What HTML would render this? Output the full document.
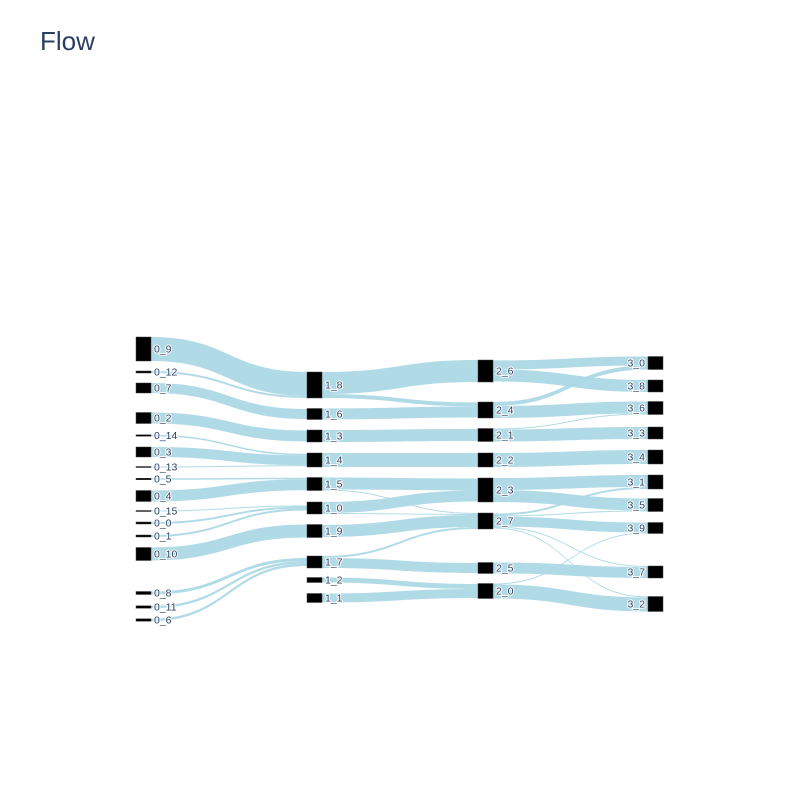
<!DOCTYPE html>
<html><head><meta charset="utf-8"><style>
html,body{margin:0;padding:0;background:#fff;}
svg{display:block;}
text{font-family:"Liberation Sans",Arial,sans-serif;}
.lbl{font-size:10.5px;fill:#2a3f5f;paint-order:stroke;stroke:#fff;stroke-width:2px;stroke-linejoin:round;}
</style></head><body>
<svg id="chart" width="800" height="800">
<rect width="800" height="800" fill="#fff"/>
<text x="40" y="50" font-size="26" fill="#2a3f5f">Flow</text>
<g id="links"></g>
<g id="nodes"></g>
</svg>
<script>
// node labels per column
const col0 = ["0_9","0_12","0_7","0_2","0_14","0_3","0_13","0_5","0_4","0_15","0_0","0_1","0_10","0_8","0_11","0_6"];
const col1 = ["1_8","1_6","1_3","1_4","1_5","1_0","1_9","1_7","1_2","1_1"];
const col2 = ["2_6","2_4","2_1","2_2","2_3","2_7","2_5","2_0"];
const col3 = ["3_0","3_8","3_6","3_3","3_4","3_1","3_5","3_9","3_7","3_2"];
// links
const linkSources = ["0_9","0_12","0_7","0_2","0_14","0_3","0_13","0_5","0_4","0_15","0_0","0_1","0_10","0_8","0_11","0_6",
 "1_8","1_8","1_6","1_3","1_4","1_5","1_5","1_0","1_0","1_9","1_7","1_7","1_2","1_1",
 "2_6","2_6","2_4","2_4","2_1","2_1","2_2","2_3","2_3","2_7","2_7","2_7","2_7","2_7","2_5","2_0","2_0"];
const linkTargets = ["1_8","1_8","1_6","1_3","1_4","1_4","1_4","1_5","1_5","1_0","1_0","1_0","1_9","1_7","1_7","1_7",
 "2_6","2_4","2_4","2_1","2_2","2_3","2_7","2_3","2_7","2_7","2_7","2_5","2_0","2_0",
 "3_0","3_8","3_0","3_6","3_6","3_3","3_4","3_1","3_5","3_1","3_5","3_9","3_7","3_2","3_7","3_9","3_2"];
const linkValues = [24,2,10,11,1.5,10,1,1.5,11,1,2,2,13,3,2.5,2.5,
 22,4,11,12,14,12,1,11,1,12,2,10,5,9,
 9,12,4,12,1,12,14,12,12,2,1,10,1,1,11,1,14];

// layout (positions only)
const colX = [136,307,478,648];
const cols = [col0,col1,col2,col3];
const centerY = {"0_9":349,"0_12":372,"0_7":388,"0_2":418,"0_14":435.5,"0_3":452,"0_13":467,"0_5":479,"0_4":496,"0_15":511,"0_0":523,"0_1":536,"0_10":554,"0_8":593,"0_11":607,"0_6":620,
"1_8":385,"1_6":414,"1_3":436,"1_4":460,"1_5":484,"1_0":508,"1_9":531,"1_7":562,"1_2":580,"1_1":598,
"2_6":371,"2_4":410,"2_1":435,"2_2":460,"2_3":490,"2_7":521,"2_5":568,"2_0":591,
"3_0":363,"3_8":386,"3_6":408,"3_3":433,"3_4":457,"3_1":482,"3_5":505,"3_9":528,"3_7":572,"3_2":604};
const NW = 15, SCALE = 1;
const NS = "http://www.w3.org/2000/svg";
const node = {};
cols.forEach((c,ci)=>c.forEach(n=>{node[n]={col:ci,x:colX[ci],inV:0,outV:0};}));
linkValues.forEach((v,i)=>{node[linkSources[i]].outV+=v;node[linkTargets[i]].inV+=v;});
Object.keys(node).forEach(n=>{const d=node[n];d.h=Math.max(d.inV,d.outV)*SCALE;d.y0=centerY[n]-d.h/2;
  d.outOff=centerY[n]-d.outV*SCALE/2; d.inOff=centerY[n]-d.inV*SCALE/2;});
const idx = linkValues.map((v,i)=>i);
const byOut = idx.slice().sort((a,b)=>centerY[linkTargets[a]]-centerY[linkTargets[b]]);
const byIn = idx.slice().sort((a,b)=>centerY[linkSources[a]]-centerY[linkSources[b]]);
const sy = {}, ty = {};
byOut.forEach(i=>{const s=node[linkSources[i]];sy[i]=s.outOff;s.outOff+=linkValues[i]*SCALE;});
byIn.forEach(i=>{const t=node[linkTargets[i]];ty[i]=t.inOff;t.inOff+=linkValues[i]*SCALE;});
const gl = document.getElementById('links');
idx.forEach(i=>{
  const s=node[linkSources[i]], t=node[linkTargets[i]], w=linkValues[i]*SCALE;
  const x0=s.x+NW, x1=t.x, xm=(x0+x1)/2, a=sy[i], b=ty[i];
  const p=document.createElementNS(NS,'path');
  p.setAttribute('d',`M${x0},${a}C${xm},${a} ${xm},${b} ${x1},${b}L${x1},${b+w}C${xm},${b+w} ${xm},${a+w} ${x0},${a+w}Z`);
  p.setAttribute('fill','#add8e6');
  p.setAttribute('fill-opacity','0.95');
  
  
  gl.appendChild(p);
});
const gn = document.getElementById('nodes');
Object.keys(node).forEach(n=>{
  const d=node[n];
  const r=document.createElementNS(NS,'rect');
  r.setAttribute('x',d.x);r.setAttribute('y',d.y0);r.setAttribute('width',NW);r.setAttribute('height',Math.max(d.h,1));
  r.setAttribute('fill','#000');r.setAttribute('stroke','#444');r.setAttribute('stroke-width','0.5');
  
  
  gn.appendChild(r);
  const t=document.createElementNS(NS,'text');
  t.setAttribute('class','lbl');
  t.setAttribute('y',centerY[n]+3.5);
  if(d.col===3){t.setAttribute('x',d.x-3);t.setAttribute('text-anchor','end');}
  else{t.setAttribute('x',d.x+NW+3);}
  t.textContent=n;
  
  
  gn.appendChild(t);
});
</script>
</body></html>
